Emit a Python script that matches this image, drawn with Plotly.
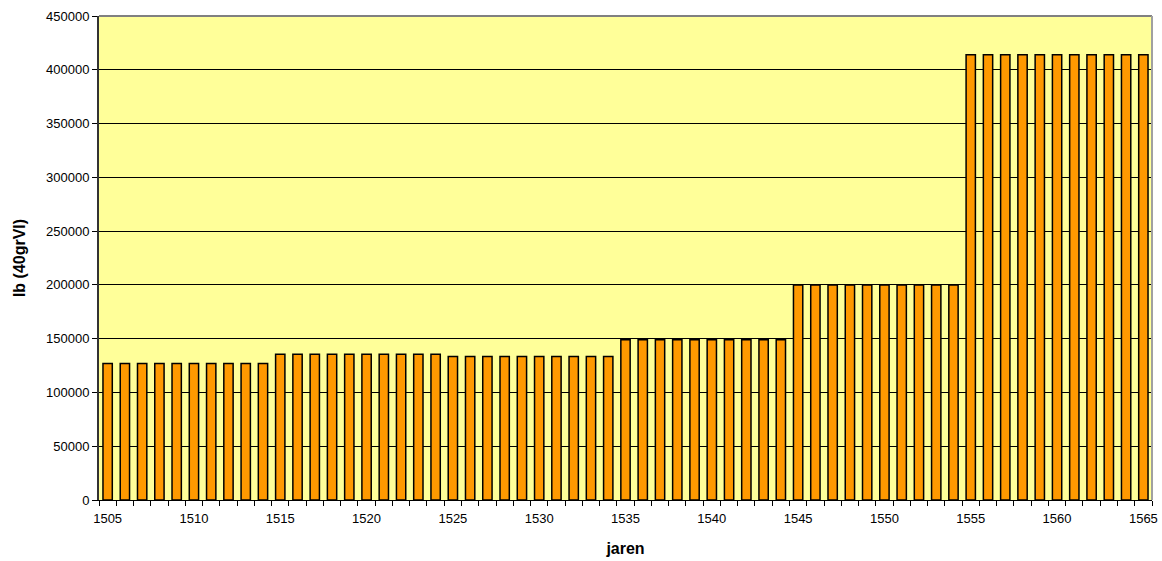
import plotly.graph_objects as go

years = list(range(1505, 1566))
values = ([127000] * 10 + [135500] * 10 + [133500] * 10 + [149000] * 10
          + [200000] * 10 + [414000] * 11)
tick_years = list(range(1505, 1566, 5))
tick_labels = [str(y) for y in tick_years]
y_ticks = list(range(0, 450001, 50000))

fig = go.Figure()
fig.add_trace(go.Bar(
    x=years, y=values, width=0.54,
    marker=dict(color="#FF9900", line=dict(color="#000000", width=1.5)),
))

fig.update_layout(
    width=1162, height=561,
    margin=dict(l=99, r=10, t=16, b=61, autoexpand=False),
    paper_bgcolor="#FFFFFF", plot_bgcolor="#FFFF99",
    showlegend=False,
    font=dict(family="Liberation Sans, Arial, sans-serif", size=13, color="#000000"),
    xaxis=dict(
        range=[1504.5, 1565.5], tickmode="array", tickvals=tick_years, ticktext=tick_labels,
        ticks="", showgrid=False, showline=True, linecolor="#000000", linewidth=1,
        zeroline=False, automargin=False, ticklabelstandoff=6,
        minor=dict(ticks="outside", tick0=1504.5, dtick=1, ticklen=5, tickcolor="#000000",
                   tickwidth=1, showgrid=False),
        title=dict(text="<b>jaren</b>", font=dict(size=16), standoff=18),
    ),
    yaxis=dict(
        range=[0, 450000], tickmode="array", tickvals=y_ticks,
        ticktext=[str(v) for v in y_ticks],
        ticks="outside", ticklen=5, tickcolor="#000000",
        showgrid=True, gridcolor="#000000", gridwidth=1,
        showline=True, linecolor="#333333", linewidth=2, zeroline=False,
        automargin=False,
        title=dict(text="<b>lb (40grVl)</b>", font=dict(size=16), standoff=16),
    ),
    shapes=[
        dict(type="line", xref="paper", yref="paper", x0=0, x1=1, y0=1, y1=1,
             line=dict(color="#808080", width=2)),
        dict(type="line", xref="paper", yref="paper", x0=1, x1=1, y0=0, y1=1,
             line=dict(color="#A0A0A0", width=2)),
    ],
)

fig.write_html("out.html", config={"displayModeBar": False},
               post_script="document.body.style.margin='0';")
